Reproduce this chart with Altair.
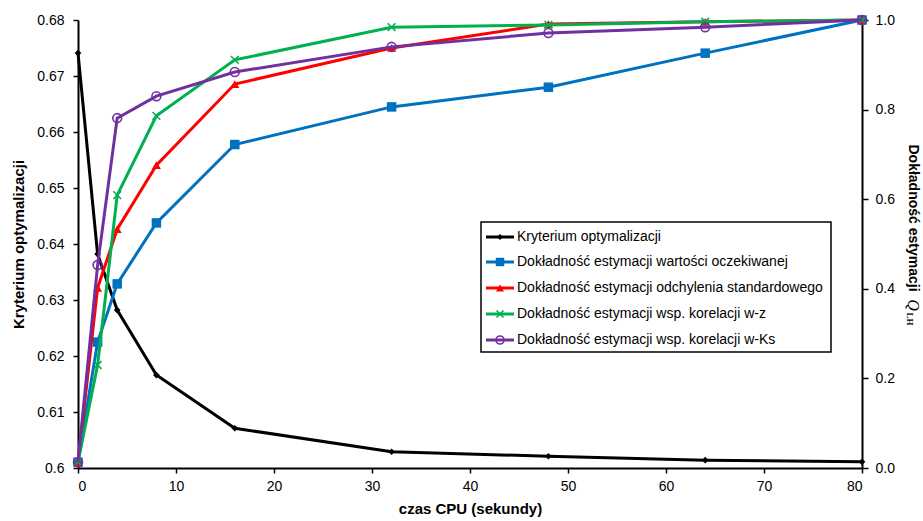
import altair as alt
import pandas as pd

# CPU time (seconds) at which each run was evaluated
cpu_time = [0, 2, 4, 8, 16, 32, 48, 64, 80]

# Optimisation criterion (left axis)
criterion = [0.6741, 0.6382, 0.6282, 0.6166, 0.6071, 0.6029, 0.6021, 0.6014, 0.6011]

# Estimation accuracy Q_LH (right axis)
acc_mean = [0.013, 0.281, 0.411, 0.547, 0.722, 0.806, 0.850, 0.926, 1.0]
acc_std = [0.013, 0.402, 0.533, 0.676, 0.857, 0.9375, 0.991, 0.996, 1.0]
acc_wz = [0.013, 0.230, 0.609, 0.786, 0.911, 0.984, 0.989, 0.996, 1.0]
acc_wks = [0.013, 0.453, 0.781, 0.830, 0.884, 0.940, 0.971, 0.984, 1.0]

criterion_name = "Kryterium optymalizacji"
accuracy_names = [
    "Dokładność estymacji wartości oczekiwanej",
    "Dokładność estymacji odchylenia standardowego",
    "Dokładność estymacji wsp. korelacji w-z",
    "Dokładność estymacji wsp. korelacji w-Ks",
]
accuracy_values = [acc_mean, acc_std, acc_wz, acc_wks]

left_ticks = [0.60, 0.61, 0.62, 0.63, 0.64, 0.65, 0.66, 0.67, 0.68]
right_ticks = [0.0, 0.2, 0.4, 0.6, 0.8, 1.0]
x_ticks = [0, 10, 20, 30, 40, 50, 60, 70, 80]

FONT = "Liberation Sans"
X_MARK = "M-1,-1L1,1M-1,1L1,-1"

# style per series: colour, marker shape, filled, marker size
styles = [
    ("#000000", "diamond", True, 45),
    ("#0070C0", "square", True, 90),
    ("#FF0000", "triangle-up", True, 80),
    ("#00B050", X_MARK, False, 60),
    ("#7030A0", "circle", False, 80),
]

W, H = 784, 448

x_enc = alt.X(
    "t:Q",
    scale=alt.Scale(domain=[0, 80], nice=False),
    axis=alt.Axis(
        values=x_ticks, title="czas CPU (sekundy)", tickSize=5,
        labelPadding=6, titlePadding=8, format="d",
    ),
)

# --- criterion on the left axis ---
crit_df = pd.DataFrame({"t": cpu_time, "v": criterion})
left_y = alt.Y(
    "v:Q",
    scale=alt.Scale(domain=[0.6, 0.68], nice=False, zero=False),
    axis=alt.Axis(
        orient="left", values=left_ticks, format=".2~f",
        title=criterion_name, tickSize=5, labelPadding=9, titlePadding=10,
    ),
)
crit_color, crit_shape, crit_filled, crit_size = styles[0]
left_layer = alt.layer(
    alt.Chart(crit_df).mark_line(color=crit_color, strokeWidth=3).encode(x=x_enc, y=left_y),
    alt.Chart(crit_df).mark_point(
        shape=crit_shape, filled=crit_filled, size=crit_size, color=crit_color, opacity=1
    ).encode(x=x_enc, y=left_y),
)

# --- accuracy series on the right axis ---
right_axis = alt.Axis(
    orient="right", values=right_ticks, format=".1f", title=None,
    tickSize=6, labelPadding=7,
)
right_layers = []
for i, (name, vals) in enumerate(zip(accuracy_names, accuracy_values)):
    color, shape, filled, size = styles[i + 1]
    df = pd.DataFrame({"t": cpu_time, "v": vals})
    y = alt.Y("v:Q", scale=alt.Scale(domain=[0, 1], nice=False), axis=right_axis)
    right_layers.append(
        alt.Chart(df).mark_line(color=color, strokeWidth=3).encode(x=x_enc, y=y)
    )
    right_layers.append(
        alt.Chart(df).mark_point(
            shape=shape, filled=filled, size=size, color=color,
            strokeWidth=1.6, opacity=1,
        ).encode(x=x_enc, y=y)
    )
right_layer = alt.layer(*right_layers)

# --- legend box drawn inside the plot area ---
LX0, LX1, LY0, LY1 = 403, 753, 202, 332
legend_rows = [217, 242, 268, 294, 320]
one = pd.DataFrame({"k": [0]})
legend_layers = [
    alt.Chart(one).mark_rect(fill="white", stroke="black", strokeWidth=1.5).encode(
        x=alt.value(LX0), x2=alt.value(LX1), y=alt.value(LY0), y2=alt.value(LY1)
    )
]
all_names = [criterion_name] + accuracy_names
for name, (color, shape, filled, size), ly in zip(all_names, styles, legend_rows):
    legend_layers.append(
        alt.Chart(one).mark_rule(color=color, strokeWidth=3).encode(
            x=alt.value(408), x2=alt.value(436), y=alt.value(ly)
        )
    )
    legend_layers.append(
        alt.Chart(one).mark_point(
            shape=shape, filled=filled, size=size * 0.8, color=color,
            strokeWidth=1.6, opacity=1,
        ).encode(x=alt.value(422), y=alt.value(ly))
    )
    legend_layers.append(
        alt.Chart(pd.DataFrame({"name": [name]})).mark_text(
            align="left", baseline="middle", font=FONT, fontSize=14, color="black"
        ).encode(x=alt.value(439), y=alt.value(ly), text="name:N")
    )

# --- right-axis title with Q_LH symbol ---
title_layers = [
    alt.Chart(pd.DataFrame({"s": ["Dokładność estymacji"]})).mark_text(
        angle=90, align="center", baseline="middle", font=FONT,
        fontSize=14, fontWeight="bold", color="black",
    ).encode(x=alt.value(835), y=alt.value(198), text="s:N"),
    alt.Chart(pd.DataFrame({"s": ["Q"]})).mark_text(
        angle=90, align="center", baseline="middle", font="Liberation Serif",
        fontSize=16, fontStyle="italic", color="black",
    ).encode(x=alt.value(835), y=alt.value(285), text="s:N"),
    alt.Chart(pd.DataFrame({"s": ["LH"]})).mark_text(
        angle=90, align="center", baseline="middle", font="Liberation Serif",
        fontSize=9, fontWeight="bold", color="black",
    ).encode(x=alt.value(832), y=alt.value(299), text="s:N"),
]

chart = (
    alt.layer(left_layer, right_layer, *legend_layers, *title_layers)
    .resolve_scale(y="independent")
    .properties(
        width=W, height=H,
        autosize=alt.AutoSizeParams(type="none"),
        padding={"left": 78, "top": 20, "right": 61, "bottom": 53},
        background="white",
    )
    .configure_view(stroke=None)
    .configure_axis(
        grid=False,
        domainColor="black", domainWidth=2,
        tickColor="black", tickWidth=1.5,
        labelColor="black", labelFont=FONT, labelFontSize=14,
        titleColor="black", titleFont=FONT, titleFontSize=15, titleFontWeight="bold",
    )
)

chart.save("out.html", embed_options={"renderer": "svg", "actions": False})
